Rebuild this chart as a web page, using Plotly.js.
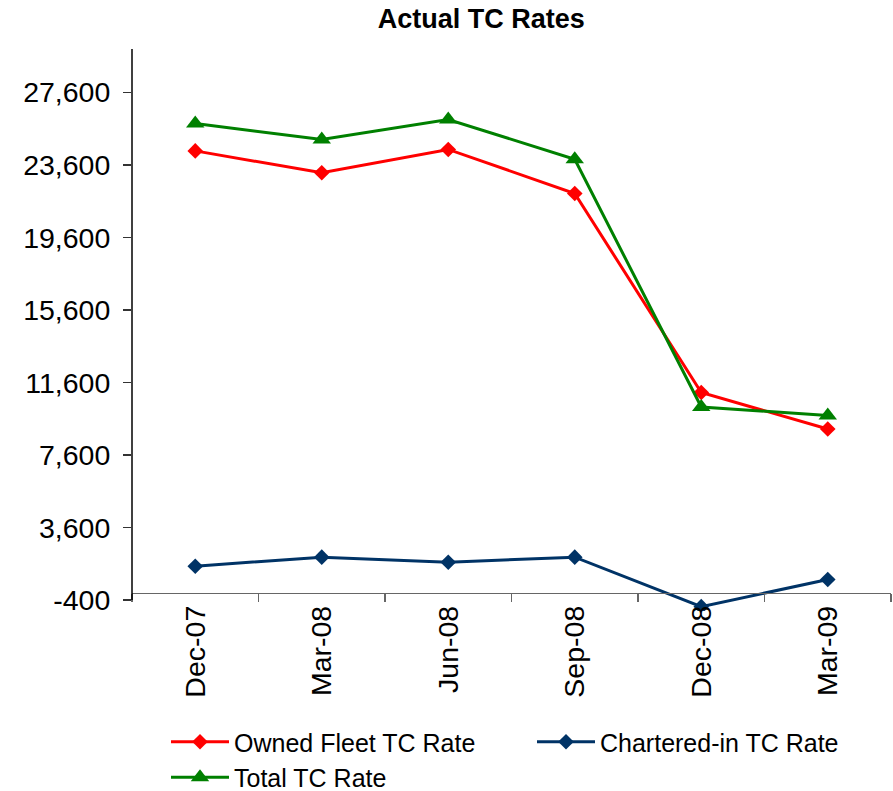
<!DOCTYPE html>
<html>
<head>
<meta charset="utf-8">
<script src="https://cdn.plot.ly/plotly-3.0.1.min.js"></script>
<style>
  html, body { margin: 0; padding: 0; background: #ffffff; }
  #chart { width: 893px; height: 791px; }
</style>
</head>
<body>
<div id="chart"></div>
<script>
// Quarterly time-charter rates
const quarters = ['Dec-07', 'Mar-08', 'Jun-08', 'Sep-08', 'Dec-08', 'Mar-09'];
const ownedFleetRate = [24380, 23170, 24460, 22030, 11050, 9040];
const charteredInRate = [1470, 1970, 1690, 1970, -760, 740];
const totalRate = [25890, 25010, 26110, 23920, 10250, 9790];

// Value axis ticks
const yTickVals = [-400, 3600, 7600, 11600, 15600, 19600, 23600, 27600];
const yTickText = ['-400', '3,600', '7,600', '11,600', '15,600', '19,600', '23,600', '27,600'];

const FONT = 'Liberation Sans, Arial, Helvetica, sans-serif';
const yMin = -1000, yMax = 30000;

const traces = [
  {
    name: 'Owned Fleet TC Rate', x: quarters, y: ownedFleetRate,
    type: 'scatter', mode: 'lines+markers',
    line: { color: '#FF0000', width: 3 },
    marker: { symbol: 'diamond', size: 12, color: '#FF0000' }
  },
  {
    name: 'Chartered-in TC Rate', x: quarters, y: charteredInRate,
    type: 'scatter', mode: 'lines+markers',
    line: { color: '#003366', width: 3 },
    marker: { symbol: 'diamond', size: 12, color: '#003366' }
  },
  {
    name: 'Total TC Rate', x: quarters, y: totalRate,
    type: 'scatter', mode: 'lines+markers',
    line: { color: '#008000', width: 3 },
    marker: { symbol: 'triangle-up', size: 16, color: '#008000' }
  }
];

const layout = {
  width: 893, height: 791,
  paper_bgcolor: '#ffffff', plot_bgcolor: '#ffffff',
  margin: { l: 132, r: 2, t: 49, b: 180, pad: 0 },
  font: { family: FONT, color: '#000000', size: 25 },
  showlegend: true,
  title: {
    text: '<b>Actual TC Rates</b>',
    font: { family: FONT, size: 27, color: '#000000' },
    x: 0.539, xanchor: 'center', xref: 'container',
    y: 1 - 19 / 791, yanchor: 'middle', yref: 'container'
  },
  xaxis: {
    type: 'category',
    range: [-0.5, quarters.length - 0.5],
    anchor: 'free',
    position: (0 - yMin) / (yMax - yMin),
    showline: true, linecolor: '#666666', linewidth: 1.5,
    showgrid: false, zeroline: false,
    ticks: 'outside', tickson: 'boundaries', ticklen: 8, tickwidth: 1.5, tickcolor: '#666666',
    tickangle: -90,
    tickfont: { family: FONT, size: 28.5, color: '#000000' }
  },
  yaxis: {
    range: [yMin, yMax],
    showline: false, showgrid: false, zeroline: false,
    tickmode: 'array', tickvals: yTickVals, ticktext: yTickText,
    ticks: 'outside', ticklen: 8, tickwidth: 1.5, tickcolor: '#333333',
    ticklabelstandoff: 7,
    tickfont: { family: FONT, size: 28.5, color: '#000000' }
  },
  shapes: [
    // value axis line, running from the lowest tick to the top of the plot
    {
      type: 'line', xref: 'paper', yref: 'y',
      x0: 0, x1: 0, y0: yTickVals[0], y1: yMax,
      line: { color: '#000000', width: 1.5 }, layer: 'above'
    }
  ],
  legend: {
    orientation: 'h',
    xref: 'container', yref: 'container',
    x: 166 / 893, xanchor: 'left',
    y: 1 - 719 / 791, yanchor: 'top',
    entrywidth: 293, entrywidthmode: 'pixels',
    itemwidth: 58,
    traceorder: 'normal',
    font: { family: FONT, size: 25, color: '#000000' },
    bgcolor: 'rgba(0,0,0,0)'
  }
};

Plotly.newPlot('chart', traces, layout, { displayModeBar: false, staticPlot: true });
</script>
</body>
</html>
